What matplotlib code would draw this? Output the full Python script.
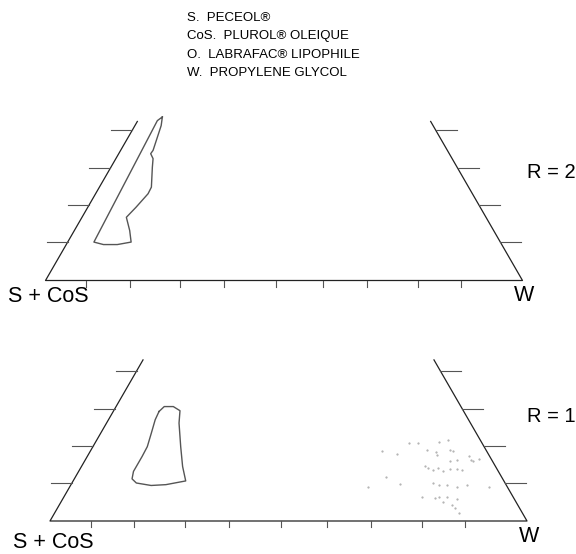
import numpy as np
import matplotlib.pyplot as plt

plt.rcParams['font.family'] = ['Liberation Sans', 'DejaVu Sans']

# legend of components
legend_lines = ['S.  PECEOL®', 'CoS.  PLUROL® OLEIQUE',
                'O.  LABRAFAC® LIPOPHILE', 'W.  PROPYLENE GLYCOL']

# microemulsion area, R = 2  (% W, % O; the rest is S + CoS)
r2_w = [4.7, 5.5, 6.8, 6.7, 7.8, 8.7, 10.9, 11.0, 10.1, 9.3, 11.6, 13.3,
        10.7, 7.8, 5.5, 4.1, 4.7]
r2_o = [39.6, 37.5, 31.5, 30.7, 29.5, 27.4, 22.6, 21.0, 17.7, 15.3, 12.1, 9.3,
        8.7, 8.7, 9.3, 38.7, 39.6]

# microemulsion area, R = 1
r1_w = [9.6, 10.1, 12.0, 13.9, 15.2, 18.4, 21.2, 23.6, 19.9, 16.9, 13.5, 12.1,
        11.5, 11.5, 11.4, 10.6, 9.8, 9.6]
r1_o = [26.5, 27.7, 27.7, 26.7, 23.7, 18.0, 13.2, 9.7, 8.8, 8.6, 9.2, 10.2,
        12.0, 15.6, 18.0, 21.3, 24.5, 26.5]

# faint dotted area, R = 1
dots_w = [61.0, 64.6, 65.9, 67.7, 70.4, 72.5, 73.2, 72.0, 73.7, 75.3, 76.6,
          77.9, 79.9, 81.4, 82.4, 72.0, 72.9, 74.2, 75.0, 76.2, 77.6, 79.1,
          80.2, 65.1, 68.9, 75.8, 77.1, 78.8, 81.2, 83.0, 88.0, 62.6, 75.0,
          78.0, 78.5, 80.2, 82.6, 82.3, 83.4, 84.7, 80.1, 75.9, 80.8]
dots_o = [17.0, 16.2, 18.8, 19.0, 17.2, 16.8, 16.0, 19.2, 19.6, 17.2, 14.6,
          14.8, 15.7, 14.6, 14.9, 13.3, 12.8, 12.3, 12.8, 12.2, 12.5, 12.5,
          12.3, 10.6, 9.0, 9.1, 8.7, 8.7, 8.2, 8.7, 8.2, 8.2, 5.9,
          5.5, 5.9, 5.9, 5.3, 3.9, 3.1, 1.9, 4.7, 17.0, 14.8]

base_ticks = [8.5, 17.7, 28.3, 37.5, 48.4, 58.1, 67.3, 78.0, 87.1]
side_ticks = [9.3, 18.2, 27.2, 36.4]
o_top = [38.5, 39.0]
ratios = ['R = 2', 'R = 1']

S = 477.0                       # pixels per full side
H = np.sqrt(3) / 2
origins = [(45.5, 280.5), (50.0, 521.0)]


def to_px(w, o, org):
    w = np.asarray(w) / 100.0
    o = np.asarray(o) / 100.0
    return org[0] + (w + o / 2) * S, org[1] - o * H * S


fig = plt.figure(figsize=(5.76, 5.54), dpi=100)
ax = fig.add_axes([0, 0, 1, 1])
ax.set_xlim(0, 576)
ax.set_ylim(554, 0)
ax.axis('off')

for k, org in enumerate(origins):
    top = o_top[k]
    # truncated triangle: left side, base, right side
    xs, ys = to_px([0, 0, 100, 100 - top], [top, 0, 0, top], org)
    ax.plot(xs, ys, color='#222222', lw=0.9)

    for t in base_ticks:
        x, y = to_px(t, 0, org)
        ax.plot([x, x], [y, y + 6], color='#555555', lw=0.8)
    for t in side_ticks:
        x, y = to_px(0, t, org)
        ax.plot([x - 21, x], [y, y], color='#555555', lw=0.8)
        x, y = to_px(100 - t, t, org)
        ax.plot([x, x + 21], [y, y], color='#555555', lw=0.8)

    ax.text(org[0] + 3, org[1] + 16 + 6 * k, 'S + CoS', fontsize=15.5,
            ha='center', va='center')
    ax.text(org[0] + S + 2, org[1] + 15, 'W', fontsize=15.5,
            ha='center', va='center')
    ax.text(527, org[1] - 108 + 4 * k, ratios[k], fontsize=14.5,
            ha='left', va='center')

xs, ys = to_px(r2_w, r2_o, origins[0])
ax.plot(xs, ys, color='#555555', lw=1.0)
xs, ys = to_px(r1_w, r1_o, origins[1])
ax.plot(xs, ys, color='#555555', lw=1.0)
xs, ys = to_px(dots_w, dots_o, origins[1])
ax.plot(xs, ys, ls='none', marker='.', ms=1.1, color='#aaaaaa')

for i, line in enumerate(legend_lines):
    ax.text(187, 18 + 18.5 * i, line, fontsize=9.5, ha='left', va='center')

fig.savefig('out.png', dpi=100)
